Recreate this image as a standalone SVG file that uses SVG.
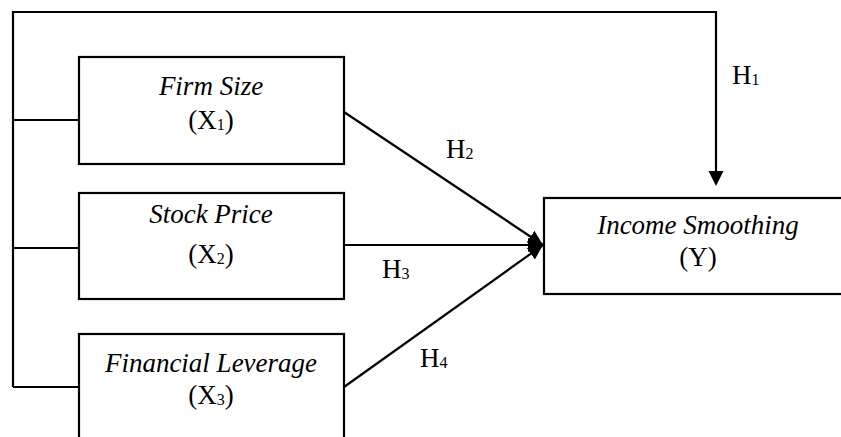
<svg xmlns="http://www.w3.org/2000/svg" width="841" height="437" viewBox="0 0 841 437">
<style>
.box{fill:#fff;stroke:#000;stroke-width:2.2}
.ln{fill:none;stroke:#000;stroke-width:2.2}
.t{font-family:"Liberation Serif","Times New Roman",serif;font-size:27px;fill:#000;text-anchor:middle}
.it{font-style:italic}
.h{font-family:"Liberation Serif","Times New Roman",serif;font-size:27px;fill:#000}
.sub{font-size:16px}
</style>
<defs>
<marker id="ah" markerUnits="userSpaceOnUse" markerWidth="16" markerHeight="16" refX="15" refY="8" orient="auto">
<path d="M0,1 L15,8 L0,15 Z" fill="#000"/>
</marker>
</defs>
<rect width="841" height="437" fill="#fff"/>
<g id="connectors">
<polyline class="ln" points="13,387 13,12 716,12 716,172"/>
<path class="ln" d="M13,120 H79 M13,248 H79 M13,387 H79"/>
<path d="M708.5,171 L723.5,171 L716,186 Z" fill="#000"/>
<line class="ln" x1="344" y1="112" x2="543" y2="245" marker-end="url(#ah)"/>
<line class="ln" x1="344" y1="245" x2="543" y2="245" marker-end="url(#ah)"/>
<line class="ln" x1="344" y1="387" x2="543" y2="245" marker-end="url(#ah)"/>
<text class="h" x="732" y="84">H<tspan class="sub" dy="1">1</tspan></text>
<text class="h" x="446" y="158">H<tspan class="sub" dy="1">2</tspan></text>
<text class="h" x="382" y="278">H<tspan class="sub" dy="1">3</tspan></text>
<text class="h" x="420" y="367">H<tspan class="sub" dy="1">4</tspan></text>
</g>
<g id="firm-size">
<rect class="box" x="79" y="57" width="265" height="107"/>
<text class="t it" x="211" y="95">Firm Size</text>
<text class="t" x="211" y="129">(X<tspan class="sub" dy="1">1</tspan><tspan dy="-1">)</tspan></text>
</g>
<g id="stock-price">
<rect class="box" x="79" y="193" width="265" height="106"/>
<text class="t it" x="211" y="223">Stock Price</text>
<text class="t" x="211" y="263">(X<tspan class="sub" dy="1">2</tspan><tspan dy="-1">)</tspan></text>
</g>
<g id="financial-leverage">
<rect class="box" x="79" y="334" width="265" height="120"/>
<text class="t it" x="211" y="372">Financial Leverage</text>
<text class="t" x="211" y="404">(X<tspan class="sub" dy="1">3</tspan><tspan dy="-1">)</tspan></text>
</g>
<g id="income-smoothing">
<rect class="box" x="544" y="198" width="310" height="96"/>
<text class="t it" x="698" y="234">Income Smoothing</text>
<text class="t" x="698" y="266">(Y)</text>
</g>
</svg>
